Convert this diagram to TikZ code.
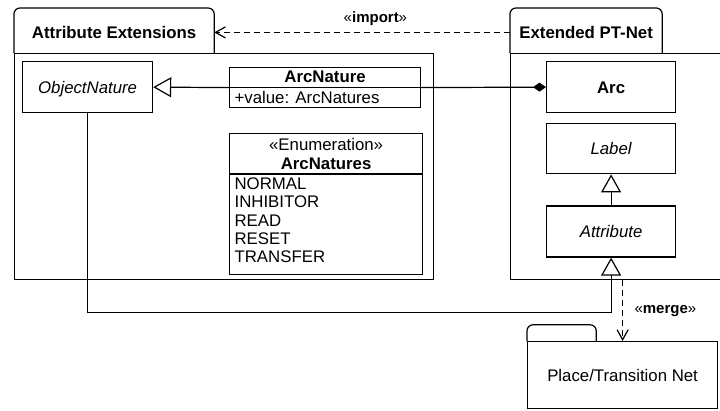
\documentclass[tikz,border=0pt]{standalone}
\usepackage{fontspec}
\usepackage{tikz}
\usetikzlibrary{arrows.meta,positioning}
\setmainfont{Liberation Sans}
\newcommand{\dgmfont}{\fontsize{16.8}{19}\selectfont}
\newcommand{\lblfont}{\fontsize{15}{17}\selectfont}

\begin{document}
\begin{tikzpicture}[x=1pt, y=-1pt, line width=1.2pt, font=\dgmfont,
  pkgtab/.style={minimum height=40pt, inner sep=0pt, anchor=south west, font=\dgmfont\bfseries},
  pkgbody/.style={draw, anchor=north west, inner sep=0pt},
  box/.style={draw, fill=white, anchor=north west, inner sep=0pt},
  cls/.style={box, text height=12pt, text depth=0pt},
  gen/.style={-{Triangle[open, length=18pt, width=20pt]}},
  comp/.style={-{Diamond[length=13pt, width=9pt]}},
  dep/.style={dash pattern=on 6pt off 4pt, -{Straight Barb[length=10pt, width=11pt]}},
]
\useasboundingbox (0,0) rectangle (720,410);
\clip (0,0) rectangle (720,410);

% packages
\node[pkgtab, minimum width=199pt] (attrTab) at (14,53) {Attribute Extensions};
\draw[rounded corners=6pt] (attrTab.south west) -- ++(0,-45) -| (attrTab.south east);
\node[pkgbody, minimum width=419pt, minimum height=226pt] (attrBody) at (attrTab.south west) {};

\node[pkgtab, minimum width=151pt] (ptTab) at (510,53) {Extended PT-Net};
\draw[rounded corners=6pt] (ptTab.south west) -- ++(0,-45) -| (ptTab.south east);
\node[pkgbody, minimum width=215pt, minimum height=226pt] (ptBody) at (ptTab.south west) {};

\node[minimum width=68pt, minimum height=15pt, inner sep=0pt, anchor=south west] (ptnTab) at (527,341) {};
\draw[rounded corners=6pt] (ptnTab.south west) |- (ptnTab.north) -| (ptnTab.south east);
\node[pkgbody, minimum width=190pt, minimum height=67pt] (ptnBody) at (ptnTab.south west) {Place/Transition Net};

% classes of the extension
\node[cls, minimum width=130pt, minimum height=51pt, font=\dgmfont\itshape] (objNature) at (22,61) {ObjectNature};

\node[box, minimum width=191pt, minimum height=40pt] (arcNature) at (229,67) {};
\draw (arcNature.west) -- (arcNature.east);
\path (arcNature.north) ++(0,10) node[font=\dgmfont\bfseries] (arcNatureName) {ArcNature};
\path (arcNature.west) ++(5,10) node[anchor=west, inner sep=0pt] (arcNatureAttr) {+value: ArcNatures};

\node[box, minimum width=193pt, minimum height=40pt, align=center] (arcNaturesHead) at (229,133) {«Enumeration»\\\textbf{ArcNatures}};
\node[box, minimum width=193pt, minimum height=100pt, anchor=north] (arcNaturesLits) at (arcNaturesHead.south) {};
\node[anchor=north west, inner sep=0pt, align=left, font=\fontsize{16.8}{18.3}\selectfont] (arcNaturesText)
  at ([xshift=5pt, yshift=-3pt]arcNaturesLits.north west) {NORMAL\\INHIBITOR\\READ\\RESET\\TRANSFER};

% classes of the net
\node[cls, minimum width=129pt, minimum height=51pt, font=\dgmfont\bfseries] (arc) at (546,61) {Arc};
\node[cls, minimum width=129pt, minimum height=50pt, font=\dgmfont\itshape, below=10pt of arc] (label) {Label};
\node[cls, minimum width=129pt, minimum height=51pt, font=\dgmfont\itshape, below=31pt of label] (attribute) {Attribute};

% relations
\draw[gen] (arcNature.west) -- (objNature.east);
\draw[comp] (arcNature.east) -- (arc.west);
\draw[gen] (attribute.north) -- (label.south);
\draw[gen] (objNature.south) -- ++(0,199) -| (attribute.south);

\draw[dep] (ptTab.west) -- (attrTab.east)
  node[pos=0.455, anchor=south, inner sep=0pt, yshift=6pt, font=\lblfont] (importLbl) {«\textbf{import}»};
\draw[dep] (ptBody.south -| ptnBody.north) -- (ptnBody.north)
  node[midway, anchor=west, xshift=8pt, font=\lblfont] (mergeLbl) {«\textbf{merge}»};
\end{tikzpicture}
\end{document}
